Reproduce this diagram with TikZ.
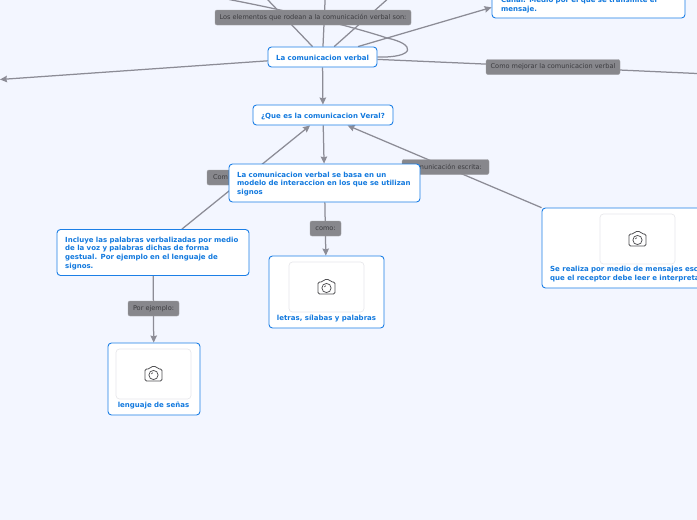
\documentclass[tikz,border=0pt]{standalone}
\usepackage{fontspec}
\setmainfont{DejaVu Sans}
\usetikzlibrary{arrows.meta}
\definecolor{bgc}{HTML}{F3F6FF}
\definecolor{bluec}{HTML}{1C7FE6}
\definecolor{txtc}{HTML}{1279DE}
\definecolor{labc}{HTML}{87878C}
\definecolor{labt}{HTML}{3C3C40}
\definecolor{linec}{HTML}{8C8C96}
\definecolor{imgb}{HTML}{E8E8EC}
\pgfdeclarelayer{bg}\pgfdeclarelayer{mid}
\pgfsetlayers{bg,mid,main}
\tikzset{
  x=1pt,y=-1pt,
  box/.style={draw=bluec,line width=0.9pt,fill=white,rounded corners=3.5pt,inner sep=0pt,align=center,text=txtc,
    text height=6.2pt,text depth=0pt,font=\fontsize{7}{8.9}\selectfont\bfseries},
  txt/.style={inner sep=0pt,text=txtc,font=\fontsize{7}{8.9}\selectfont\bfseries},
  lab/.style={fill=labc,draw=labc!80!white,line width=0.4pt,rounded corners=2pt,inner sep=0pt,text=labt,
    font=\fontsize{6.55}{8}\selectfont},
  imgbox/.style={draw=imgb,line width=0.7pt,fill=white,rounded corners=3.5pt,inner sep=0pt,minimum width=75pt,minimum height=50pt},
  conn/.style={draw=linec,line width=1.25pt},
  arr/.style={conn,-{Stealth[length=7pt,width=6.5pt,inset=0.8pt]}},
  cam/.pic={
    \draw[draw=labt!90!white,line width=0.75pt,rounded corners=1.5pt]
      (-8.5,-5) -- (-4,-5) -- (-2.5,-7.5) -- (3,-7.5) -- (4.5,-5) -- (8.5,-5) -- (8.5,7) -- (-8.5,7) -- cycle;
    \draw[draw=labt!90!white,line width=0.75pt] (0,1) circle[radius=4.6];
    \draw[draw=labt!90!white,line width=0.6pt] (-2.2,0) -- (-0.6,-1.4);
  }
}
\begin{document}
\begin{tikzpicture}
\useasboundingbox (0,0) rectangle (697,520);
\begin{pgfonlayer}{bg}
\fill[bgc] (0,0) rectangle (697,520);
\end{pgfonlayer}

% nodes
\node[box,minimum width=109pt,minimum height=20pt] (lc) at (322.5,57) {La comunicacion verbal};
\node[box,minimum width=140pt,minimum height=20pt] (que) at (323,115) {¿Que es la comunicacion Veral?};
\node[box,minimum width=191pt,minimum height=38pt] (basa) at (324.5,183) {};
\node[txt,anchor=west,align=left,text width=178pt] (basat) at (237,184) {La comunicacion verbal se basa en un\\modelo de interaccion en los que se utilizan\\signos};
\node[box,minimum width=192pt,minimum height=46pt] (inc) at (153,252.5) {};
\node[txt,anchor=west,align=left,text width=178pt] (inct) at (65,253.5) {Incluye las palabras verbalizadas por medio\\de la voz y palabras dichas de forma\\gestual. Por ejemplo en el lenguaje de\\signos.};
\node[box,minimum width=193pt,minimum height=78pt] (canal) at (588.5,-21) {};
\node[txt,anchor=west,align=left,text width=178pt] (canalt) at (501,5) {Canal: Medio por el que se transmite el\\mensaje.};

\node[box,minimum width=92pt,minimum height=72pt] (len) at (154,379) {};
\node[imgbox] (leni) at (153.5,374) {};
\pic at (leni) {cam};
\node[txt] (lent) at (153.5,405.7) {lenguaje de señas};

\node[box,minimum width=115pt,minimum height=72pt] (let) at (326.5,292) {};
\node[imgbox] (leti) at (326.5,287) {};
\pic at (leti) {cam};
\node[txt] (lett) at (326.5,318.5) {letras, sílabas y palabras};

\node[box,minimum width=190pt,minimum height=80pt] (sr) at (637,248) {};
\node[imgbox] (sri) at (637.5,239) {};
\pic at (sri) {cam};
\node[txt,anchor=west,align=left,text width=190pt] (srt) at (550,274) {Se realiza por medio de mensajes escritos\\que el receptor debe leer e interpretar};

% free ends
\coordinate (f1b) at (245,-24);
\coordinate (f2) at (326,-20);
\coordinate (f3b) at (409,-20);
\coordinate (fl) at (0,79.5);
\coordinate (fr) at (697,73.5);
\coordinate (fs) at (229,-0.5);
\coordinate (lp) at (387,38);

\begin{pgfonlayer}{mid}
\node[lab,minimum width=196pt,minimum height=15pt] (l1) at (313,17.5) {Los elementos que rodean a la comunicación verbal son:};
\node[lab,minimum width=134pt,minimum height=15pt] (l2) at (553,67) {Como mejorar la comunicacion verbal};
\node[lab,minimum width=31pt,minimum height=15pt] (l3) at (325.5,228.5) {como:};
\node[lab,minimum width=51pt,minimum height=15pt] (l4) at (153.5,308.5) {Por ejemplo:};
\node[lab,minimum width=87pt,minimum height=15pt] (l5) at (445.5,167) {Comunicación escrita:};
\node[lab,minimum width=80pt,minimum height=15pt,align=left,text width=68pt] (l6) at (247,177.5) {Com};
\end{pgfonlayer}

\begin{pgfonlayer}{bg}
\begin{scope}
\clip (0,0) rectangle (697,520);
\draw[conn] (lc) -- (f1b);
\draw[conn] (lc) -- (f2);
\draw[conn] (lc) -- (f3b);
\draw[arr] (lc) -- (canal);
\draw[arr] (lc) -- (fl);
\draw[conn] (lc) -- (l2) -- (fr);
\draw[conn] (lc.east) .. controls (416,58) and (416,44) .. (lp) .. controls (360,29) and (300,13) .. (fs);
\draw[arr] (lc) -- (que);
\draw[arr] (que) -- (basa);
\draw[arr] (inc) -- (que);
\draw[arr] (sr) -- (que);
\draw[arr] (basa) -- (let);
\draw[arr] (inc) -- (len);
\end{scope}
\end{pgfonlayer}
\end{tikzpicture}
\end{document}
